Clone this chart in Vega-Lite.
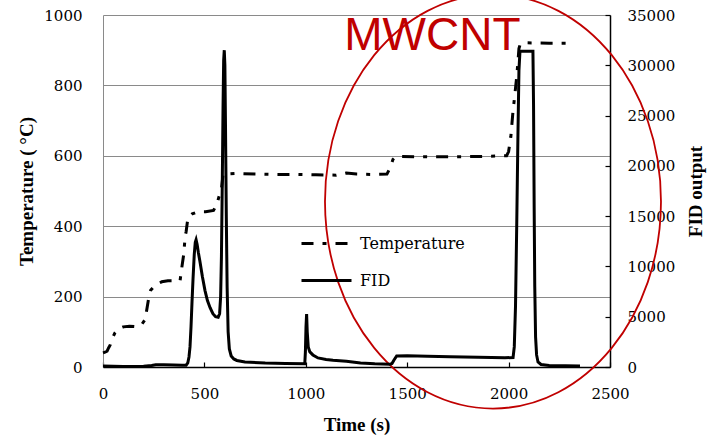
{
  "$schema": "https://vega.github.io/schema/vega-lite/v6.json",
  "width": 507,
  "height": 352,
  "autosize": {"type": "none"},
  "padding": {"left": 103, "top": 15, "right": 100, "bottom": 71},
  "background": "white",
  "config": {
    "view": {"stroke": null},
    "font": "Liberation Serif",
    "axis": {
      "labelFont": "DejaVu Serif",
      "labelFontSize": 15,
      "labelColor": "black",
      "titleFont": "Liberation Serif",
      "titleFontSize": 19,
      "titleFontWeight": "bold",
      "titleColor": "black",
      "labelFlush": false,
      "labelOverlap": false,
      "domainWidth": 1.5,
      "tickWidth": 1.2
    }
  },
  "datasets": {
    "temperature": [
      {"time": 0, "temp": 40}, {"time": 10, "temp": 42}, {"time": 20, "temp": 45}, {"time": 28, "temp": 55},
      {"time": 35, "temp": 62}, {"time": 45, "temp": 80}, {"time": 59, "temp": 97}, {"time": 75, "temp": 108},
      {"time": 100, "temp": 114}, {"time": 130, "temp": 116}, {"time": 168, "temp": 114}, {"time": 190, "temp": 120},
      {"time": 207, "temp": 134}, {"time": 215, "temp": 160}, {"time": 225, "temp": 195}, {"time": 235, "temp": 218},
      {"time": 250, "temp": 228}, {"time": 261, "temp": 234}, {"time": 290, "temp": 242}, {"time": 320, "temp": 245},
      {"time": 380, "temp": 245}, {"time": 388, "temp": 280}, {"time": 398, "temp": 320}, {"time": 405, "temp": 370},
      {"time": 410, "temp": 385}, {"time": 419, "temp": 425}, {"time": 440, "temp": 435}, {"time": 468, "temp": 441},
      {"time": 506, "temp": 441}, {"time": 545, "temp": 445}, {"time": 560, "temp": 460}, {"time": 575, "temp": 490},
      {"time": 585, "temp": 510}, {"time": 592, "temp": 548}, {"time": 650, "temp": 550}, {"time": 750, "temp": 548},
      {"time": 850, "temp": 547}, {"time": 950, "temp": 547}, {"time": 1050, "temp": 546}, {"time": 1150, "temp": 545},
      {"time": 1200, "temp": 551}, {"time": 1250, "temp": 548}, {"time": 1330, "temp": 547}, {"time": 1400, "temp": 548},
      {"time": 1415, "temp": 565}, {"time": 1430, "temp": 590}, {"time": 1445, "temp": 598}, {"time": 1550, "temp": 597},
      {"time": 1700, "temp": 597}, {"time": 1850, "temp": 598}, {"time": 1990, "temp": 600}, {"time": 2000, "temp": 612},
      {"time": 2011, "temp": 654}, {"time": 2021, "temp": 722}, {"time": 2030, "temp": 770}, {"time": 2041, "temp": 830},
      {"time": 2051, "temp": 905}, {"time": 2058, "temp": 918}, {"time": 2080, "temp": 921}, {"time": 2200, "temp": 920},
      {"time": 2312, "temp": 920}
    ],
    "fid": [
      {"time": 0, "fid": 100}, {"time": 50, "fid": 80}, {"time": 100, "fid": 60}, {"time": 150, "fid": 60},
      {"time": 200, "fid": 80}, {"time": 240, "fid": 150}, {"time": 260, "fid": 230}, {"time": 300, "fid": 230},
      {"time": 350, "fid": 200}, {"time": 390, "fid": 180}, {"time": 410, "fid": 180}, {"time": 418, "fid": 400},
      {"time": 424, "fid": 1000}, {"time": 429, "fid": 2000}, {"time": 434, "fid": 4000}, {"time": 439, "fid": 6500},
      {"time": 444, "fid": 8800}, {"time": 450, "fid": 11200}, {"time": 455, "fid": 12400}, {"time": 459, "fid": 12650},
      {"time": 464, "fid": 12200}, {"time": 470, "fid": 11400}, {"time": 478, "fid": 10500}, {"time": 490, "fid": 9000},
      {"time": 503, "fid": 7600}, {"time": 515, "fid": 6600}, {"time": 528, "fid": 5900}, {"time": 542, "fid": 5300},
      {"time": 555, "fid": 5000}, {"time": 568, "fid": 4950}, {"time": 575, "fid": 5300}, {"time": 580, "fid": 7000},
      {"time": 584, "fid": 11000}, {"time": 588, "fid": 18000}, {"time": 592, "fid": 26000}, {"time": 595, "fid": 30500},
      {"time": 598, "fid": 31500}, {"time": 601, "fid": 30000}, {"time": 604, "fid": 24000}, {"time": 608, "fid": 15000},
      {"time": 612, "fid": 8000}, {"time": 617, "fid": 3500}, {"time": 623, "fid": 1800}, {"time": 632, "fid": 1100},
      {"time": 645, "fid": 800}, {"time": 660, "fid": 650}, {"time": 700, "fid": 500}, {"time": 800, "fid": 400},
      {"time": 900, "fid": 350}, {"time": 995, "fid": 330}, {"time": 998, "fid": 1500}, {"time": 1001, "fid": 4000},
      {"time": 1004, "fid": 5270}, {"time": 1007, "fid": 3500}, {"time": 1012, "fid": 2000}, {"time": 1020, "fid": 1500},
      {"time": 1035, "fid": 1200}, {"time": 1060, "fid": 900}, {"time": 1100, "fid": 750}, {"time": 1134, "fid": 660},
      {"time": 1200, "fid": 560}, {"time": 1270, "fid": 400}, {"time": 1340, "fid": 320}, {"time": 1415, "fid": 270},
      {"time": 1425, "fid": 350}, {"time": 1435, "fid": 700}, {"time": 1448, "fid": 1100}, {"time": 1500, "fid": 1120},
      {"time": 1600, "fid": 1080}, {"time": 1711, "fid": 1020}, {"time": 1850, "fid": 970}, {"time": 1982, "fid": 920},
      {"time": 2022, "fid": 950}, {"time": 2028, "fid": 2000}, {"time": 2034, "fid": 6000}, {"time": 2040, "fid": 14000},
      {"time": 2046, "fid": 23000}, {"time": 2051, "fid": 29500}, {"time": 2056, "fid": 31400}, {"time": 2120, "fid": 31400},
      {"time": 2123, "fid": 26000}, {"time": 2126, "fid": 16000}, {"time": 2129, "fid": 8000}, {"time": 2133, "fid": 3000},
      {"time": 2138, "fid": 1200}, {"time": 2145, "fid": 500}, {"time": 2160, "fid": 250}, {"time": 2200, "fid": 150},
      {"time": 2280, "fid": 120}, {"time": 2352, "fid": 100}
    ]
  },
  "encoding": {
    "x": {
      "field": "time",
      "type": "quantitative",
      "scale": {"domain": [0, 2500], "nice": false},
      "axis": {
        "title": "Time (s)",
        "values": [0, 500, 1000, 1500, 2000, 2500],
        "format": "d",
        "grid": false,
        "tickSize": -5,
        "labelPadding": 24,
        "domainColor": "black",
        "tickColor": "black",
        "titlePadding": 14
      }
    }
  },
  "layer": [
    {
      "encoding": {
        "y": {
          "field": "temp",
          "type": "quantitative",
          "scale": {"domain": [0, 1000], "nice": false},
          "axis": {
            "title": "Temperature ( °C)",
            "orient": "left",
            "values": [0, 200, 400, 600, 800, 1000],
            "format": "d",
            "grid": true,
            "gridColor": "#8a8a8a",
            "gridWidth": 1,
            "ticks": false,
            "labelPadding": 21,
            "domainColor": "#8a8a8a",
            "domainWidth": 1,
            "titlePadding": 7
          }
        }
      },
      "layer": [
        {
          "data": {"name": "temperature"},
          "mark": {"type": "line", "color": "black", "strokeWidth": 3},
          "encoding": {
            "strokeDash": {
              "datum": "Temperature",
              "type": "nominal",
              "scale": {"domain": ["Temperature"], "range": [[12, 9, 4, 9]]},
              "legend": {
                "orient": "none",
                "legendX": 197,
                "legendY": 202,
                "title": null,
                "padding": 0,
                "symbolType": "stroke",
                "symbolSize": 2500,
                "symbolStrokeWidth": 3,
                "symbolStrokeColor": "black",
                "labelFont": "DejaVu Serif",
                "labelFontSize": 16,
                "labelColor": "black",
                "labelOffset": 7
              }
            }
          }
        },
        {
          "data": {"values": [{"time": 1923, "temp": 470}]},
          "mark": {
            "type": "point",
            "shape": "M0,-1A0.8116,1,0,1,1,0,1A0.8116,1,0,1,1,0,-1Z",
            "size": 171396,
            "filled": false,
            "stroke": "#c00000",
            "strokeWidth": 1.8,
            "opacity": 1
          }
        },
        {
          "data": {"values": [{"time": 1624, "temp": 901, "label": "MWCNT"}]},
          "mark": {
            "type": "text",
            "font": "Liberation Sans",
            "fontSize": 46,
            "color": "#c00000",
            "align": "center",
            "baseline": "alphabetic"
          },
          "encoding": {"text": {"field": "label"}}
        }
      ]
    },
    {
      "data": {"name": "fid"},
      "mark": {"type": "line", "color": "black", "strokeWidth": 3},
      "encoding": {
        "y": {
          "field": "fid",
          "type": "quantitative",
          "scale": {"domain": [0, 35000], "nice": false},
          "axis": {
            "title": "FID output",
            "orient": "right",
            "values": [0, 5000, 10000, 15000, 20000, 25000, 30000, 35000],
            "format": "d",
            "grid": false,
            "tickSize": -5,
            "labelPadding": 22,
            "domainColor": "black",
            "tickColor": "black",
            "titleAngle": -90,
            "titleBaseline": "top",
            "titlePadding": 12
          }
        },
        "color": {
          "datum": "FID",
          "type": "nominal",
          "scale": {"domain": ["FID"], "range": ["black"]},
          "legend": {
            "orient": "none",
            "legendX": 197,
            "legendY": 239,
            "title": null,
            "padding": 0,
            "symbolType": "stroke",
            "symbolSize": 2500,
            "symbolStrokeWidth": 3,
            "symbolStrokeColor": "black",
            "labelFont": "DejaVu Serif",
            "labelFontSize": 16,
            "labelColor": "black",
            "labelOffset": 7
          }
        }
      }
    }
  ],
  "resolve": {"scale": {"y": "independent"}}
}
